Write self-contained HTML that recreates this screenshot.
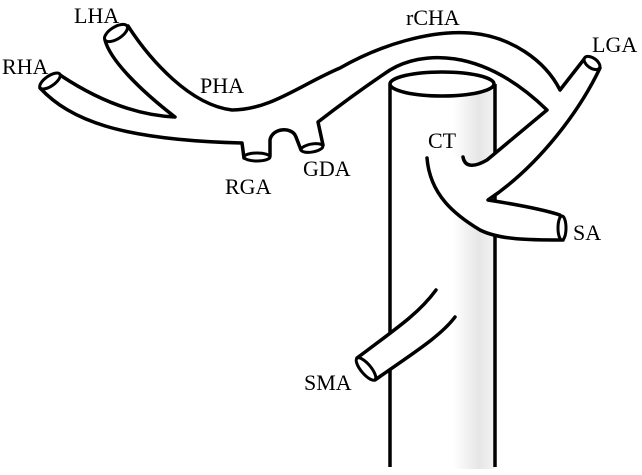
<!DOCTYPE html>
<html><head><meta charset="utf-8"><style>
html,body{margin:0;padding:0;background:#fff;}
svg{display:block;}
text{font-family:"Liberation Serif",serif;font-size:22px;fill:#000;}
</style></head><body>
<svg width="642" height="475" viewBox="0 0 642 475" xmlns="http://www.w3.org/2000/svg">
<defs>
<linearGradient id="ag" x1="0" x2="1" y1="0" y2="0">
<stop offset="0" stop-color="#fff"/><stop offset="0.6" stop-color="#fff"/><stop offset="0.85" stop-color="#e6e6e6"/><stop offset="1" stop-color="#f4f4f4"/>
</linearGradient>
</defs>
<rect x="390" y="84" width="105" height="385" fill="url(#ag)"/>
<line x1="390" y1="84" x2="390" y2="467" stroke="#000" stroke-width="3.5"/>
<line x1="495" y1="84" x2="495" y2="467" stroke="#000" stroke-width="3.5"/>
<ellipse cx="442" cy="84" rx="52" ry="12" fill="#fff" stroke="#000" stroke-width="3.5"/>
<path d="M427,158 C430,195 455,215 480,230 C500,240 530,240 563,240 L560,215 C545,210 520,205 488,200 C540,165 580,110 600,68 L585,58 L560,90 C545,60 510,36 470,33 C430,30 380,45 340,68 C300,85 270,110 232,110 C190,105 150,60 128,26 L105,40 C110,60 140,90 175,117 C130,115 90,95 60,75 L40,88 C70,120 120,140 242,143 L244,158 L270,156 L270,140 C272,128 292,126 296,137 L301,150 L323,145 L318,122 C340,105 360,90 390,70 C420,52 480,45 547,110 L487,160 C475,167 465,168 463,157" fill="#fff" stroke="#000" stroke-width="3.5" stroke-linejoin="round" stroke-linecap="round"/>
<ellipse cx="116" cy="33" rx="13" ry="6" transform="rotate(-32 116 33)" fill="#fff" stroke="#000" stroke-width="3"/>
<ellipse cx="50" cy="81" rx="12" ry="5" transform="rotate(-35 50 81)" fill="#fff" stroke="#000" stroke-width="3"/>
<ellipse cx="592" cy="63" rx="9" ry="5" transform="rotate(35 592 63)" fill="#fff" stroke="#000" stroke-width="3"/>
<ellipse cx="562" cy="228" rx="4" ry="12" fill="#fff" stroke="#000" stroke-width="3"/>
<ellipse cx="257" cy="157" rx="13" ry="4" fill="#fff" stroke="#000" stroke-width="3"/>
<ellipse cx="312" cy="148" rx="11" ry="4" transform="rotate(-10 312 148)" fill="#fff" stroke="#000" stroke-width="3"/>
<path d="M436,290 C420,312 400,326 357,358 L375,380 C410,355 440,337 455,317" fill="#fff" stroke="#000" stroke-width="3.5" stroke-linejoin="round" stroke-linecap="round"/>
<ellipse cx="366" cy="369" rx="14" ry="5" transform="rotate(50 366 369)" fill="#fff" stroke="#000" stroke-width="3"/>
<text x="74" y="23">LHA</text>
<text x="2" y="74">RHA</text>
<text x="200" y="93">PHA</text>
<text x="225" y="194">RGA</text>
<text x="303" y="176">GDA</text>
<text x="406" y="25">rCHA</text>
<text x="592" y="52">LGA</text>
<text x="428" y="148">CT</text>
<text x="573" y="240">SA</text>
<text x="304" y="390">SMA</text>
</svg>
</body></html>
